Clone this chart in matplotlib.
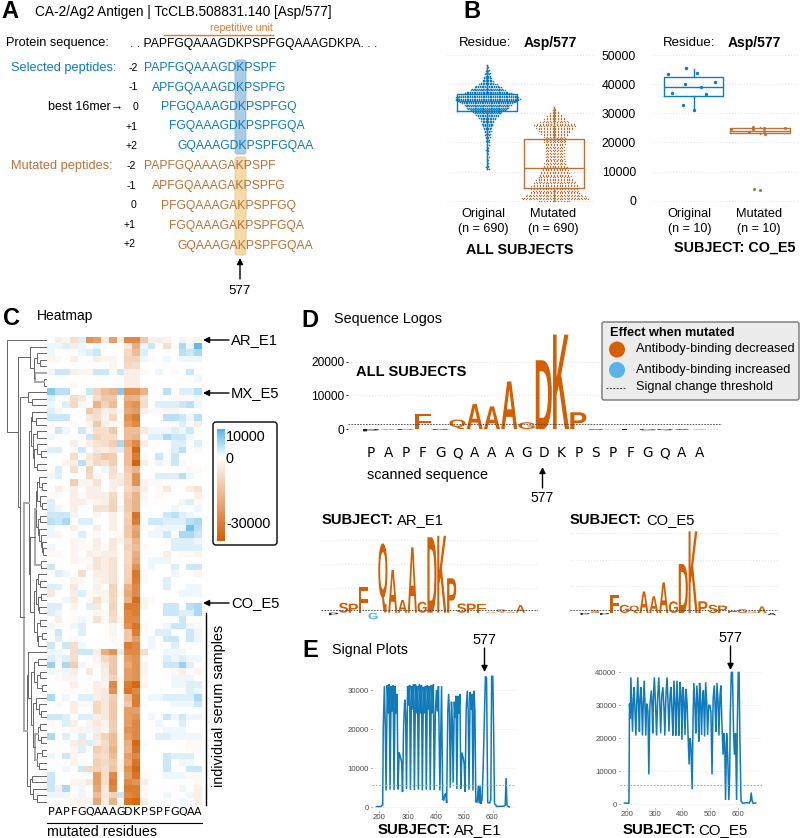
#!/usr/bin/env python3
"""Multi-panel antigen figure: peptides, swarm/box plots, heatmap, logos, signal plots."""

import numpy as np
import matplotlib
matplotlib.use("Agg")
import matplotlib.pyplot as plt
from matplotlib.colors import LinearSegmentedColormap, TwoSlopeNorm
from matplotlib.font_manager import FontProperties
from matplotlib.patches import Circle, FancyBboxPatch, PathPatch
from matplotlib.textpath import TextPath
from matplotlib.transforms import Affine2D

plt.rcParams["font.family"] = ["Liberation Sans", "DejaVu Sans"]

W, H = 800, 838
BLUE = "#0F7BBA"
BROWN = "#B8733A"
ORANGE = "#D55E00"
SKY = "#56B4E9"
GRID = "#e6e6e6"

# ── Panel A ──
protein_seq = ". . PAPFGQAAAGDKPSPFGQAAAGDKPA. . ."
offsets = ["-2", "-1", "0", "+1", "+2"]
selected = ["PAPFGQAAAGDKPSPF", "APFGQAAAGDKPSPFG", "PFGQAAAGDKPSPFGQ",
            "FGQAAAGDKPSPFGQA", "GQAAAGDKPSPFGQAA"]
mutated = ["PAPFGQAAAGAKPSPF", "APFGQAAAGAKPSPFG", "PFGQAAAGAKPSPFGQ",
           "FGQAAAGAKPSPFGQA", "GQAAAGAKPSPFGQAA"]

# ── Panel B ──
# number of points per 500-signal level, highest level first
orig_top = 46500
orig_counts = [1, 1, 1, 2, 2, 3, 3, 3, 4, 5, 6, 7, 8, 11, 13, 16, 18, 20, 24, 27, 30, 33, 36,
               37, 36, 32, 29, 27, 25, 24, 22, 20, 17, 15, 13, 12, 10, 9, 8, 7, 7, 6, 5, 5,
               4, 4, 3, 3, 3, 3, 2, 2, 2, 2, 1, 2, 1, 1, 2, 1, 1, 1, 0, 2, 1, 1, 1, 1, 1, 1, 2, 2]
mut_top = 32000
mut_counts = [1, 1, 2, 3, 4, 5, 6, 7, 8, 9, 11, 14, 15, 15, 14, 13, 12, 11, 10, 9, 8, 8, 8, 8, 8,
              8, 7, 7, 7, 7, 7, 7, 7, 7, 7, 7, 7, 8, 8, 8, 8, 9, 9, 10, 10, 11, 11, 12, 12, 13,
              14, 15, 15, 16, 17, 17, 17, 17, 17, 18, 20, 22, 24, 24, 12]
box_all = [dict(q1=30800, med=34300, q3=36600, whislo=11000, whishi=46500),
           dict(q1=4200, med=11100, q3=21050, whislo=0, whishi=32300)]
box_co = [dict(q1=36150, med=39240, q3=42680, whislo=31100, whishi=45400),
          dict(q1=23100, med=24100, q3=24830, whislo=22880, whishi=25290)]
co_orig_jit = [-0.378, -0.118, 0.048, 0.318, -0.128, 0.118, -0.318, 0.188, -0.158, 0.0]
co_orig_val = [43480, 45650, 43820, 40620, 39970, 39050, 36960, 36610, 32720, 31120]
co_mut_jit = [-0.441, -0.165, -0.11, -0.11, 0.065, 0.065, 0.075, 0.376, -0.09, 0.0]
co_mut_val = [24710, 23570, 25290, 24710, 25060, 24030, 22880, 24830, 4120, 3550]

# ── Panel C ── heatmap values in thousands, one row per serum sample
residues = "PAPFGQAAAGDKPSPFGQAA"
heat_k = [
    [0, -3, -2, -6, 2, -20, -18, -4, -18, -3, -22, -22, -10, -3, -3, -2, 0, 1, -1, -2],
    [1, 1, 2, -3, 1, 0, 1, 0, 0, 0, -4, -15, 1, 3, 0, -6, -1, 5, 1, 9],
    [1, 0, 0, 0, 1, 2, 3, 0, 0, 0, -7, -12, 2, 0, 0, 0, 0, 4, 3, 5],
    [-2, -1, 0, -3, 0, 0, -3, -2, -2, 0, -8, -8, 1, -1, 0, 1, 0, 1, 1, 1],
    [0, 0, 0, 0, 0, 0, 0, 0, -2, 0, -7, -6, 0, 0, 0, 0, 0, 0, 0, 0],
    [1, 3, 3, -3, -2, -2, 3, 3, -1, 3, -3, -3, -1, 0, 1, 0, -1, 0, 3, 0],
    [0, 0, 0, 0, 0, 0, 0, 0, 0, 0, -3, -3, 0, 0, 0, 0, 0, 0, 0, 1],
    [0, 0, 0, -1, 0, 0, 0, 0, 0, 0, -3, -3, 0, 0, 0, 0, 0, 0, 0, 0],
    [7, 4, 4, 0, 0, 3, -8, -12, -14, 7, -20, -20, -14, 0, 0, 4, 0, 2, 2, 4],
    [2, 0, -1, -6, -4, 0, -6, -10, -10, 0, -15, -14, -6, 0, 0, 0, -1, -1, -1, 1],
    [1, 0, 2, -7, -2, -1, -14, -8, -12, 0, -18, -20, -6, 0, 2, 2, 2, 3, 4, 1],
    [2, -2, 0, 0, 0, -10, -7, -3, -4, 1, -16, -18, -3, -1, -1, -2, -2, -1, 0, 0],
    [3, 3, 3, 0, 0, -4, -6, -2, -7, 0, -20, -24, 0, 0, 0, 4, 4, 3, 1, 4],
    [-1, 0, 0, -1, 0, -2, -10, -3, -1, -1, -18, -22, 0, 0, 0, 0, -1, 2, 0, -3],
    [0, 3, 1, 0, 3, -1, -6, -6, -10, 0, -12, -12, -4, 1, 1, 1, 2, 1, 3, 0],
    [1, 0, 0, 0, 0, 3, -8, -6, -6, 0, -12, -14, -1, 2, 2, 5, 3, 3, 1, 0],
    [0, 0, 0, -3, 0, -3, -5, -6, -9, 5, -16, -22, -3, 0, 0, 0, 2, 2, 0, 2],
    [2, 2, 0, -1, 3, 0, -4, -3, -5, 2, -12, -28, 0, 0, 0, 0, 2, 4, 0, -1],
    [0, 0, 0, -6, 0, -4, -7, -10, -9, 0, -12, -24, -1, 0, 3, 0, 3, 0, 0, 0],
    [0, 0, -2, -3, 4, -3, -7, -5, -9, 0, -12, -29, -3, 0, 1, -1, 3, -1, 0, 0],
    [0, 2, 0, -6, 0, -8, 0, 1, -6, 0, -10, -14, 0, 0, 0, 0, 0, 0, -1, -1],
    [1, 2, 0, 0, 0, -7, -2, 0, -5, -3, -8, -20, 0, 0, 2, 2, 2, 4, 1, 0],
    [0, 0, 0, -9, -2, -2, -5, 0, -3, -4, -8, -20, -2, -1, -1, 0, 0, 0, 0, 0],
    [0, -3, -1, -3, 0, -3, -3, 0, -3, 0, -7, -10, -3, 0, -1, -4, 0, 0, -3, -5],
    [-1, -1, 0, -3, -1, -3, -3, -3, -7, -1, -9, -14, -2, 0, -1, 0, 0, 0, 0, -3],
    [2, 0, 0, -3, -3, -1, -2, -3, -8, 0, -10, -14, -1, 0, 0, 0, 0, 1, 2, -1],
    [2, 1, 0, -3, 0, 0, -5, -5, -8, 1, -10, -14, 0, 0, 0, 0, 1, 0, 0, 1],
    [3, 3, 3, 1, 0, 0, -2, 0, -3, 0, -8, -26, -1, 0, 0, 3, 4, 2, 1, 0],
    [4, 3, 5, 0, 2, 2, 0, 0, -3, 0, -9, -24, 0, 3, 3, 2, 2, 2, 4, 5],
    [1, 0, 0, -3, 0, 0, -3, 0, -3, 0, -10, -16, -1, 0, 1, 1, 1, 1, 8, 4],
    [1, -2, 0, 0, 2, 0, -1, 0, -1, -1, -10, -18, 0, 1, 1, 3, 0, 5, 5, 3],
    [0, 0, 0, -2, -1, 0, -3, 0, -4, -2, -7, -14, 0, 0, 0, 0, 2, 2, 2, 1],
    [1, 0, 0, -2, -1, -1, -3, -1, -4, 0, -8, -12, -1, 0, 0, 0, 2, 2, 2, 2],
    [-1, -1, 0, -2, 0, -3, -2, -3, -3, 0, -7, -15, 0, 0, 0, -3, 0, -1, -1, -2],
    [0, 0, 0, -2, -1, -1, -5, -3, -5, 0, -7, -16, 0, 1, 1, 1, 0, 0, 0, 0],
    [3, 0, 0, 0, 0, -2, -5, -3, -5, 0, -8, -20, 0, 1, 0, 0, 2, 0, 3, 3],
    [0, 2, 1, 0, -6, 0, -3, -3, -5, 0, -8, -25, -1, 0, 0, 0, 1, 0, 0, -2],
    [0, 0, 0, -2, -1, 0, -2, -3, -5, 0, -9, -24, -1, 0, 0, 2, 0, 0, 0, 0],
    [2, 2, 0, -4, 0, 0, -3, 0, -8, 0, -14, -22, 0, 0, 0, 2, 0, 0, 1, 1],
    [-4, 0, 0, -3, 2, -1, -2, -2, -8, -1, -16, -22, 0, 0, 0, 0, 0, 1, 1, 1],
    [0, 0, 1, -4, 0, -1, -6, -2, -7, 0, -14, -27, -2, -1, 0, 0, 0, 0, 0, 0],
    [2, 2, 0, -2, 0, 2, -4, 0, -8, 0, -24, -24, -2, 0, 0, 3, 3, 0, 4, 5],
    [2, 1, 0, 0, 0, 0, -2, -1, -7, 0, -22, -24, 0, 0, 0, 3, 3, 2, 2, 5],
    [0, -3, 0, -1, 1, 0, -5, -1, -6, -2, -22, -22, 0, 0, 0, 0, 0, 3, 0, 0],
    [1, 0, 0, 1, 2, 0, 0, 0, -2, 0, -20, -26, -1, 0, 0, 1, 3, 3, 1, -1],
    [-1, 3, 0, 0, 2, 0, 0, 0, -2, 0, -10, -24, -1, 0, 2, 2, 0, 0, 3, 1],
    [0, 2, 0, -1, 0, 0, 0, 0, -1, 0, -10, -18, 0, 1, 0, 3, 3, 0, 3, 1],
    [3, 0, 3, -6, 1, 0, 0, 0, 0, 0, -24, -22, 0, 1, 0, 0, 2, 0, 0, 0],
    [1, 1, 0, -6, 3, 3, -3, -15, -20, 2, -22, -22, -6, 0, 0, 1, 1, 1, 0, 0],
    [2, 1, 2, -6, 0, 0, -2, -7, -10, 0, -18, -20, -1, 0, 0, 2, 1, 2, 1, 1],
    [6, 0, 5, -9, 1, 0, -1, -4, -10, 0, -16, -20, -2, 0, 0, 3, 3, 6, 2, 0],
    [1, -1, 1, -3, 0, -4, 0, -3, -10, 0, -18, -20, -2, 0, 0, 0, -1, -3, 0, -2],
    [0, -1, -2, -2, 0, -1, 0, -3, -8, -1, -18, -20, -1, 0, 0, 0, 1, 1, 1, 0],
    [0, 0, 0, -3, 0, 0, -3, -2, -22, 0, -24, -28, -2, 0, 0, 0, 1, 1, 2, 2],
    [0, 0, 0, -1, 0, -1, -3, -4, -20, 0, -26, -22, 0, 0, 0, 0, 0, 0, 2, 1],
    [5, 0, 1, 0, 2, 2, -3, -4, -9, 0, -12, -24, 0, 1, 1, 2, 2, 2, 2, 5],
    [0, -1, 0, -3, -1, -1, -7, -4, -10, 0, -10, -24, -1, 0, 0, 0, 1, 1, 1, 3],
    [0, 0, 0, -3, 0, 0, -7, -4, -10, 0, -18, -18, 0, 0, 0, 0, 0, 0, 0, 0],
    [3, 3, 2, 0, 2, 2, -3, -4, -10, 0, -18, -20, 0, 1, 0, 3, 1, 3, 1, 1],
    [-1, 0, 2, -3, 0, -2, -4, -2, -9, 0, -18, -22, 0, 0, 1, 0, 0, 2, 0, 0],
    [0, 0, 0, -1, -2, 1, -3, -2, -9, 0, -20, -22, 0, 0, 0, 1, 1, 1, 0, 0],
    [5, 0, 2, 0, 2, 0, -4, -8, -12, -1, -18, -22, 0, 0, 2, 2, 1, 1, 1, 1],
    [0, 0, 0, -3, -4, 2, -3, -6, -12, -1, -15, -28, -1, 0, 0, 0, 0, 0, -1, -1],
    [0, 0, 0, -2, 2, 0, -9, -7, -14, -1, -14, -26, 0, 0, 0, 0, 0, 0, -1, -1],
    [1, 0, 3, -2, 0, 0, -7, -6, -12, 0, -18, -22, 0, 0, 0, 3, 2, 2, 2, 0],
    [0, 0, 0, -2, 0, 0, -9, -7, -10, -2, -16, -26, 0, 0, 0, 3, 0, 1, 1, 0],
    [0, 0, 1, 0, 3, -7, -8, -6, -11, -2, -20, -28, 0, 0, 0, 3, 0, 0, 3, 3],
    [3, 0, 0, 0, 0, 0, -18, -6, -22, 0, -18, -26, -1, 0, 0, 1, 1, 1, -1, -1],
    [3, 0, 0, -2, -2, -4, -18, -6, -24, 0, -22, -20, -3, 0, 0, 0, 0, 0, 0, -1],
    [3, -3, 5, -1, 1, 0, -16, -4, -22, 0, -24, -24, -1, 0, 0, 0, 0, 1, 0, -3],
    [1, 1, 1, 0, 1, 0, -12, -4, -8, 3, -22, -24, -1, 0, 0, 1, 0, 0, 1, -3],
    [0, 0, 0, -2, -2, -2, -16, -3, -14, 0, -26, -28, -3, 0, 0, -1, 0, 1, 0, -3],
]
# dendrogram: (height, child, child), L is a leaf, leaves follow heatmap row order
L = None
dend_top = (17, L, (13, (10, L, (7, L, L)), (12, L, (3, L, L))))
dend_mx = (19, L, (15, L, L))
dend_a = (16, (15, L, (11, L, L)), (14, (10, L, L), (13, (10, L, (6, L, L)), (10, L, L))))
dend_b = (17,
          (12, (11, (10, (8, L, (5, L, L)), (7, L, (5, L, L))),
                (9, (7, L, L), (8, L, (6, L, (5, L, (4, L, L)))))),
           (6, L, L)),
          (13, (11, (9, L, (7, L, L)), (9, (6, L, L), (8, L, L))),
           (10, (7, L, L), (9, (5, L, L), L))))
dend_c = (20,
          (19, L, (16, (13, (9, L, L), (10, (7, L, L), (5, L, L))),
                   (14, (11, L, (8, L, (6, L, L))),
                    (12, (9, (7, L, L), (6, L, L)), (10, (5, L, L), (8, L, L)))))),
          (17, (15, L, L), (14, L, (10, L, L))))
dendrogram = (40, L, (29, dend_top, (27, dend_mx, (23, (18, dend_a, dend_b), dend_c))))
LIGHT_NODES = {23, 12}

# ── Panel D ──
logo_all_letters = "PAPFGQAAAGDKPSPFGQAA"
logo_all = [-700, -150, -250, 4450, -300, 2800, 7400, 6700, 14100, 2000,
            20400, 28000, 4950, -250, -60, -150, -400, -400, -300, -100]
logo_ar_letters = "PSPFGQAAAGDKPSPFGQAA"
logo_ar = [-1000, 4100, 3700, 10400, -2700, 28400, 17500, 5200, 26800, 4500,
           30900, 31500, 14100, 3800, 3700, 3600, 400, 1400, 400, 3100]
logo_co_letters = "PSPFGQAAAGDKPSPFGQAA"
logo_co = [-700, 1200, -700, 6900, 3100, 2800, 8100, 6300, 11500, 4400,
           18400, 30700, 4400, 3100, 2800, 600, 1500, 600, 2500, -800]

# ── Panel E ──
ar_pos = [190, 205, 212, 214, 218, 221, 224, 228, 232, 235, 238, 242, 245, 249, 252, 256, 259, 263,
          266, 270, 274, 279, 282, 286, 290, 293, 296, 300, 303, 307, 310, 314, 317, 321, 324, 328,
          331, 335, 338, 342, 345, 349, 352, 356, 359, 363, 366, 370, 373, 377, 380, 384, 387, 391,
          394, 398, 402, 405, 409, 414, 420, 424, 428, 431, 435, 438, 442, 445, 448, 451, 455, 458,
          461, 465, 468, 471, 474, 478, 481, 485, 488, 492, 497, 500, 503, 507, 511, 514, 517, 521,
          524, 528, 531, 535, 538, 541, 546, 550, 553, 556, 559, 563, 567, 571, 575, 579, 583, 590,
          594, 597, 601, 604, 607, 615, 640, 645, 648, 651, 655, 660]
ar_signal = [200, 200, 600, 20500, 31000, 21000, 4300, 31200, 24000, 31500, 4500, 31000, 24500, 31200,
             4400, 31000, 24000, 29000, 4600, 14000, 13000, 11500, 3900, 21000, 27500, 24000, 4700,
             31000, 26000, 31300, 4500, 31000, 25000, 31500, 4400, 31400, 24000, 31000, 4500, 31400,
             24000, 31200, 4300, 30800, 24000, 31000, 4500, 31200, 25000, 31000, 4400, 31300, 24000,
             31400, 4400, 24000, 30000, 24500, 31000, 4300, 31000, 2000, 1800, 3200, 3500, 1100, 24500,
             29000, 24000, 5000, 27000, 22000, 6300, 27000, 23000, 28500, 4700, 28500, 24000, 29000,
             4800, 14000, 12500, 11000, 4000, 25000, 29800, 25000, 4500, 29500, 25000, 29000, 4300,
             29800, 24000, 1400, 1300, 5500, 1000, 5400, 900, 2000, 10000, 22000, 33500, 33000, 1200,
             1100, 2000, 33500, 33500, 20000, 1000, 200, 300, 500, 7500, 600, 200, 100]
co_pos = [190, 203, 206, 208, 211, 213, 216, 219, 222, 225, 228, 231, 234, 238, 241, 244, 246, 249,
          252, 255, 258, 261, 264, 267, 270, 273, 275, 278, 282, 287, 290, 292, 295, 298, 302, 306,
          310, 314, 318, 321, 325, 329, 333, 336, 340, 344, 348, 351, 355, 358, 362, 365, 369, 373,
          376, 380, 384, 387, 391, 395, 398, 402, 406, 409, 413, 417, 420, 424, 426, 430, 435, 438,
          441, 445, 448, 452, 456, 459, 462, 466, 469, 473, 476, 480, 484, 488, 491, 495, 499, 503,
          507, 511, 515, 518, 521, 525, 529, 532, 536, 539, 543, 547, 550, 553, 556, 560, 564, 568,
          571, 573, 577, 581, 585, 588, 592, 596, 599, 602, 605, 608, 612, 618, 630, 642, 646, 649,
          652, 656, 665]
co_signal = [300, 200, 300, 30500, 26000, 38500, 30000, 22000, 32000, 35500, 28000, 20800, 30000, 38500,
             29000, 22000, 32000, 35500, 30000, 20800, 31000, 37500, 30000, 20800, 30500, 29500, 28000,
             9000, 30000, 34500, 29000, 21500, 33000, 38500, 31000, 20800, 32000, 38500, 30000, 21500,
             33000, 35500, 29000, 20800, 33000, 38500, 30000, 22000, 33000, 35500, 28000, 20800, 37500,
             30000, 20800, 37500, 30000, 20800, 37000, 33000, 19500, 35500, 31000, 21000, 35000, 30000,
             21000, 12000, 20000, 18500, 4500, 25000, 36800, 30000, 21500, 36000, 30000, 19000, 36800,
             30000, 21000, 34000, 34500, 20500, 37000, 30000, 21000, 30000, 30000, 28000, 9000, 32000,
             36000, 30000, 22000, 36800, 31000, 20800, 33000, 36000, 24000, 15000, 21500, 18000, 1200,
             21500, 14000, 1200, 10000, 27000, 40000, 40000, 22000, 15000, 21500, 1200, 26000, 40000,
             40000, 20000, 1000, 200, 400, 300, 1000, 3500, 1000, 200, 300]

fig = plt.figure(figsize=(W / 100, H / 100), dpi=100, facecolor="white")


def px_axes(x0, y0, x1, y1, **kw):
    """Axes placed by its pixel box in the 800x838 figure (y counted from the top)."""
    return fig.add_axes([x0 / W, 1 - y1 / H, (x1 - x0) / W, (y1 - y0) / H], **kw)


def scaled_axes(x0, y0, x1, y1, x_ref, x_scale, y_ref, y_scale):
    """Axes whose data value 0 sits at pixel (x_ref, y_ref), scales in px per unit."""
    ax = px_axes(x0, y0, x1, y1)
    ax.set_xlim((x0 - x_ref) / x_scale, (x1 - x_ref) / x_scale)
    ax.set_ylim((y_ref - y1) / y_scale, (y_ref - y0) / y_scale)
    ax.patch.set_alpha(0)
    for s in ax.spines.values():
        s.set_visible(False)
    return ax


# overlay for every free label, in pixel coordinates
ov = px_axes(0, 0, W, H, zorder=10)
ov.set_xlim(0, W)
ov.set_ylim(H, 0)
ov.axis("off")
ov.patch.set_alpha(0)


def T(x, y, s, size=9, **kw):
    kw.setdefault("va", "center")
    ov.text(x, y, s, fontsize=size, **kw)


def arrow(x0, y0, x1, y1):
    ov.annotate("", xy=(x1, y1), xytext=(x0, y0),
                arrowprops=dict(arrowstyle="-|>", color="black", lw=1, shrinkA=0, shrinkB=0,
                                mutation_scale=9))


# ── Panel A ──
T(1, 18.5, "A", 17, weight="bold", va="baseline")
T(35, 12, "CA-2/Ag2 Antigen | TcCLB.508831.140 [Asp/577]", 9.8)
T(273, 28, "repetitive unit", 7.6, color="#E07B28", ha="right")
ov.plot([164, 273], [35, 35], color="#E07B28", lw=1)
T(6, 43, "Protein sequence:", 9.2)
T(130, 44, protein_seq, 8.7)
T(11, 68, "Selected peptides:", 9.2, color=BLUE)
T(11, 166, "Mutated peptides:", 9.2, color=BROWN)
T(48, 107, "best 16mer→", 9)
ov.add_patch(FancyBboxPatch((237, 62), 7, 90, boxstyle="round,pad=2,rounding_size=2.5",
                            fc="#A9CBE4", ec="#8FB9D9", lw=0.6, zorder=0))
ov.add_patch(FancyBboxPatch((237, 159), 7, 94, boxstyle="round,pad=2,rounding_size=2.5",
                            fc="#F6DAA8", ec="#EBC98E", lw=0.6, zorder=0))
for i in range(5):
    x = 144 + 8.4 * i
    T(138, 68 + 19.5 * i, offsets[i], 7.6, ha="right")
    T(x, 68 + 19.5 * i, selected[i], 8.7, color=BLUE)
    T(136, 166 + 19.6 * i, offsets[i], 7.6, ha="right")
    T(x, 166 + 20 * i, mutated[i], 8.7, color=BROWN)
arrow(240, 279, 240, 258)
T(240, 291, "577", 9.6, ha="center")


# ── Panel B ──
def swarm_xy(top, counts, spacing):
    xs, ys = [], []
    for lvl, n in enumerate(counts):
        shift = spacing / 2 if lvl % 2 else 0
        xs.extend((np.arange(n) - (n - 1) / 2) * spacing + shift)
        ys.extend([top - 500 * lvl] * n)
    return xs, ys


def boxes(ax, stats):
    for i, (st, col) in enumerate(zip(stats, (BLUE, BROWN))):
        ax.bxp([st], positions=[i], widths=0.9, showcaps=False, showfliers=False,
               boxprops=dict(color=col, lw=1), medianprops=dict(color=col, lw=1),
               whiskerprops=dict(color=col, lw=1), manage_ticks=False)


def style_b(ax):
    ax.set_xticks([])
    ax.grid(axis="y", color=GRID, lw=0.8, ls=":")
    ax.set_axisbelow(True)


PX_Y = 29.1 / 10000
ax_b1 = scaled_axes(447, 45, 595, 208, 487, 67, 200.7, PX_Y)
style_b(ax_b1)
ax_b1.set_yticks(range(0, 60000, 10000))
ax_b1.tick_params(left=False, labelleft=False)
ox, oy = swarm_xy(orig_top, orig_counts, 0.0265)
mx, my = swarm_xy(mut_top, mut_counts, 0.042)
ax_b1.scatter(ox, oy, s=1.3, color=BLUE, lw=0, zorder=2)
ax_b1.scatter(1 + np.array(mx), my, s=1.0, color=BROWN, lw=0, zorder=2)
boxes(ax_b1, box_all)

ax_b2 = scaled_axes(652, 45, 800, 208, 693.5, 66.5, 200.7, PX_Y)
style_b(ax_b2)
ax_b2.set_yticks(range(0, 60000, 10000))
ax_b2.tick_params(left=False, pad=8, labelsize=8.8)
ax_b2.scatter(co_orig_jit, co_orig_val, s=6, color=BLUE, lw=0, zorder=3)
ax_b2.scatter(1 + np.array(co_mut_jit), co_mut_val, s=5, color=BROWN, lw=0, zorder=3)
boxes(ax_b2, box_co)

T(463, 17.5, "B", 17, weight="bold", va="baseline")
T(459, 43, "Residue:", 9.5)
T(524, 43, "Asp/577", 10, weight="bold")
T(663, 43, "Residue:", 9.5)
T(728, 43, "Asp/577", 10, weight="bold")
for cx, a, b in [(483, "Original", "(n = 690)"), (553, "Mutated", "(n = 690)"),
                 (689.5, "Original", "(n = 10)"), (759, "Mutated", "(n = 10)")]:
    T(cx, 214, a, 9.2, ha="center")
    T(cx, 229, b, 9, ha="center")
T(520, 250, "ALL SUBJECTS", 10.3, weight="bold", ha="center")
T(735, 248, "SUBJECT: CO_E5", 10.4, weight="bold", ha="center")

# ── Panel C ──
heat = np.array(heat_k) * 1000
heat_cmap = LinearSegmentedColormap.from_list("heat", [ORANGE, "white", SKY])
heat_norm = TwoSlopeNorm(vmin=-30000, vcenter=0, vmax=10000)
ax_h = px_axes(47, 337, 202, 805)
ax_h.imshow(heat, cmap=heat_cmap, norm=heat_norm, aspect="auto", interpolation="nearest")
ax_h.axis("off")

ax_d = px_axes(5, 337, 47, 805)
ax_d.set_xlim(42, 0)
ax_d.set_ylim(len(heat_k) - 0.5, -0.5)
ax_d.axis("off")
leaf_counter = [0]


def draw_node(node):
    """Draw one dendrogram node, return its height and row position."""
    if node is None:
        leaf_counter[0] += 1
        return 0, leaf_counter[0] - 1
    h, a, b = node
    ha, ya = draw_node(a)
    hb, yb = draw_node(b)
    light = h in LIGHT_NODES
    col, lw = ("#aaaaaa", 1.4) if light else ("#666666", 0.7)
    ax_d.plot([ha, h, h, hb], [ya, ya, yb, yb], color=col, lw=lw, solid_joinstyle="miter")
    return h, (ya + yb) / 2


draw_node(dendrogram)

T(3, 325, "C", 17, weight="bold", va="baseline")
T(37, 316, "Heatmap", 10)
for y, name in [(340, "AR_E1"), (393, "MX_E5"), (603, "CO_E5")]:
    arrow(229, y, 203, y)
    T(231, y, name, 10.6)
ov.add_patch(FancyBboxPatch((215, 424), 60, 119, boxstyle="round,pad=2,rounding_size=3",
                            fc="white", ec="black", lw=1))
ax_cb = px_axes(216.5, 429, 224, 541, zorder=11)
ax_cb.imshow(np.linspace(10000, -30000, 200)[:, None], cmap=heat_cmap, norm=heat_norm,
             aspect="auto", interpolation="bilinear")
ax_cb.axis("off")
T(226, 437, "10000", 10.4)
T(226, 459, "0", 10.4)
T(226, 524, "-30000", 10.4)
ov.plot([205.5, 205.5], [613, 805], color="black", lw=1)
T(219, 706, "individual serum samples", 10.4, rotation=90, ha="center")
for i, c in enumerate(residues):
    T(47 + 7.75 * (i + 0.5), 812, c, 8, family="DejaVu Sans", ha="center")
ov.plot([47, 202], [823, 823], color="black", lw=0.8)
T(47, 832, "mutated residues", 10.3)

# ── Panel D ──
logo_font = FontProperties(family="Liberation Sans", weight="bold")
THRESH = 1400


def draw_logo(ax, letters, values):
    for i, (c, v) in enumerate(zip(letters, values)):
        path = TextPath((0, 0), c, size=1, prop=logo_font)
        bb = path.get_extents()
        base = min(v, 0)
        col = ORANGE if v > 0 else (SKY if v < -THRESH else "#222222")
        tf = (Affine2D().translate(-bb.x0, -bb.y0)
              .scale(0.93 / bb.width, abs(v) / bb.height)
              .translate(i - 0.465, base))
        ax.add_patch(PathPatch(tf.transform_path(path), fc=col, ec="none", zorder=3))


ax_l = scaled_axes(348, 330, 722, 441, 371, 17.28, 429, 33.7 / 10000)
draw_logo(ax_l, logo_all_letters, logo_all)
ax_l.axhline(1400, color="#444444", lw=0.6, ls=(0, (2, 1.5)), zorder=4)
ax_l.set_xticks([])
ax_l.set_yticks([0, 10000, 20000])
ax_l.grid(axis="y", color=GRID, lw=0.8, ls=":")
ax_l.set_axisbelow(True)
ax_l.tick_params(axis="y", length=1.5, width=0.6, pad=1, labelsize=8.6)

ax_ar = scaled_axes(321, 530, 538, 622, 333.7, 9.83, 612.7, 24.4 / 10000)
draw_logo(ax_ar, logo_ar_letters, logo_ar)
ax_ar.axhline(1100, color="#444444", lw=0.6, ls=(0, (2, 1.5)), zorder=4)
ax_co = scaled_axes(570, 525, 778, 622, 585, 9.83, 613, 26.6 / 10000)
draw_logo(ax_co, logo_co_letters, logo_co)
ax_co.axhline(1100, color="#444444", lw=0.6, ls=(0, (2, 1.5)), zorder=4)
for ax in (ax_ar, ax_co):
    ax.set_xticks([])
    ax.set_yticks([10000, 20000, 30000])
    ax.tick_params(left=False, labelleft=False)
    ax.grid(axis="y", color=GRID, lw=0.8, ls=":")
    ax.set_axisbelow(True)

T(301, 327, "D", 17, weight="bold", va="baseline")
T(334, 319, "Sequence Logos", 10.4)
T(356, 372, "ALL SUBJECTS", 10.5, weight="bold")
for i, c in enumerate(logo_all_letters):
    T(371 + 17.28 * i, 453, c, 9.8, family="DejaVu Sans", ha="center")
T(367, 475, "scanned sequence", 10.4)
arrow(542.5, 488, 542.5, 467)
T(542.5, 498, "577", 10, ha="center")
ov.add_patch(FancyBboxPatch((604, 324), 193, 74, boxstyle="round,pad=2,rounding_size=2",
                            fc="#ececec", ec="#777777", lw=1))
T(610, 333, "Effect when mutated", 9.2, weight="bold")
ov.add_patch(Circle((617, 349.5), 8, fc=ORANGE, ec="none"))
ov.add_patch(Circle((617, 370), 8, fc=SKY, ec="none"))
T(636, 349, "Antibody-binding decreased", 9.2)
T(636, 369.5, "Antibody-binding increased", 9.2)
T(636, 387, "Signal change threshold", 9.2)
ov.plot([606, 626], [388, 388], color="#333333", lw=0.7, ls=(0, (2, 1.5)))
T(321.5, 524, "SUBJECT:", 10.6, weight="bold", va="baseline")
T(397, 524, "AR_E1", 10.6, va="baseline")
T(570, 524, "SUBJECT:", 10.6, weight="bold", va="baseline")
T(646, 524, "CO_E5", 10.6, va="baseline")


# ── Panel E ──
def signal_plot(box, x200, px_x, y0, px_y, ymax_tick, pos, vals, thresh):
    ax = scaled_axes(box[0], box[1], box[2], box[3], x200 - 200 * px_x, px_x, y0, px_y)
    ax.plot(pos, vals, color=BLUE, lw=1.1, solid_joinstyle="miter")
    ax.axhline(thresh, color="#aaaaaa", lw=0.8, ls=(0, (1.5, 1.5)))
    ax.set_xticks([200, 300, 400, 500, 600])
    ax.set_yticks(range(0, ymax_tick + 1, 10000))
    ax.grid(axis="y", color=GRID, lw=0.7, ls=":")
    ax.set_axisbelow(True)
    ax.tick_params(length=1, width=0.5, pad=1.5, labelsize=5.6, colors="#4d4d4d")
    return ax


signal_plot((372, 660, 516, 811), 379.3, 0.283, 807.3, 39.1 / 10000, 30000, ar_pos, ar_signal, 5700)
signal_plot((620, 660, 762, 808), 627.3, 0.276, 804, 32.9 / 10000, 40000, co_pos, co_signal, 5900)

T(302, 656.5, "E", 17, weight="bold", va="baseline")
T(332, 650, "Signal Plots", 10.3)
T(484.5, 640, "577", 10.4, ha="center")
arrow(484.5, 648, 484.5, 672)
T(730.5, 638, "577", 10.4, ha="center")
arrow(730.5, 646, 730.5, 670)
T(378, 834, "SUBJECT:", 10.8, weight="bold", va="baseline")
T(454, 834, "AR_E1", 10.8, va="baseline")
T(622.5, 834, "SUBJECT:", 10.8, weight="bold", va="baseline")
T(698, 834, "CO_E5", 10.8, va="baseline")

fig.savefig("out.png", dpi=100, facecolor="white")
